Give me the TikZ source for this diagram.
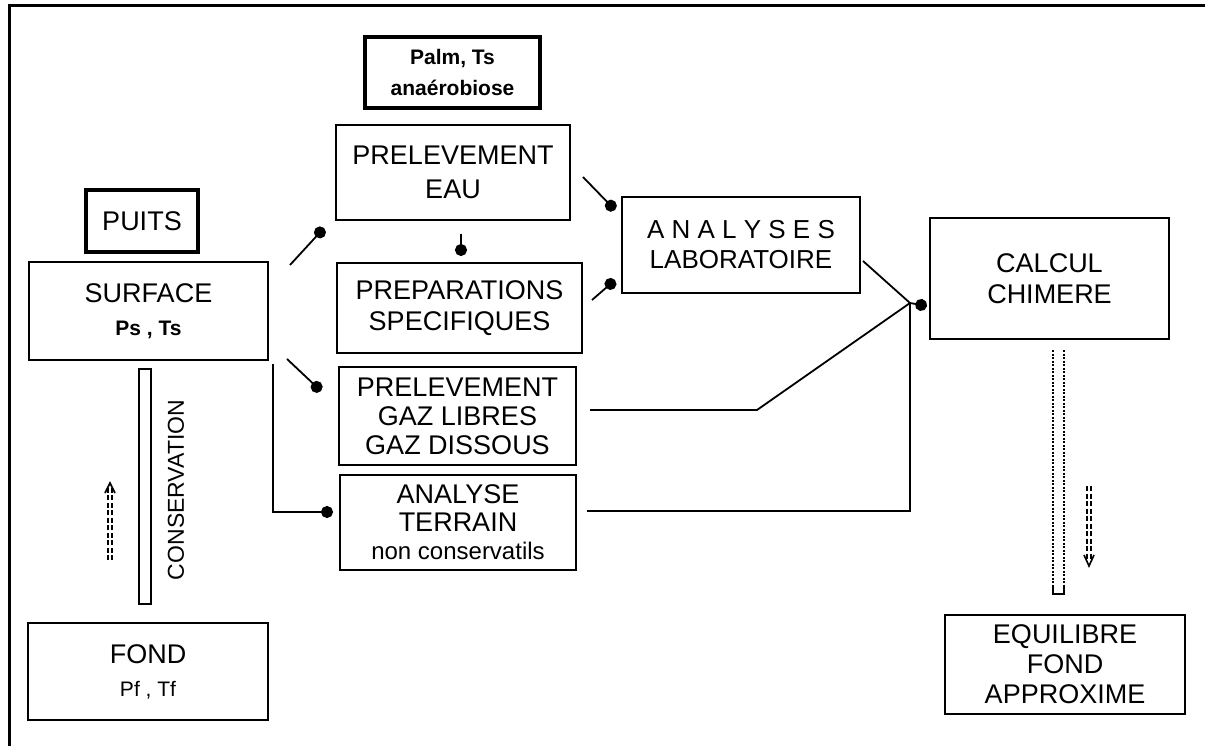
\documentclass[tikz,border=0pt]{standalone}
\usepackage{fontspec}
\setmainfont{Liberation Sans}
\usetikzlibrary{arrows.meta}
\begin{document}
\begin{tikzpicture}[x=1pt,y=-1pt,
  box/.style={draw, line width=2pt, rectangle, inner sep=0pt, align=center, font=\fontsize{27}{31}\selectfont},
  thickbox/.style={box, line width=3.5pt},
  dotline/.style={line width=1.8pt, -{Circle[length=12pt,width=12pt]}},
  wire/.style={line width=1.8pt},
  dashdbl/.style={line width=1.6pt, dash pattern=on 5pt off 2.5pt},
  dotted pipe/.style={line width=2.6pt, dash pattern=on 2.2pt off 1.3pt},
]
\useasboundingbox (0,0) rectangle (1205,746);
% frame
\draw[line width=3pt] (9,746) -- (9,6) -- (1205,6);

% nodes
\node[thickbox, minimum width=175pt, minimum height=71pt, font=\bfseries\fontsize{21}{31}\selectfont] (palm) at (452.5,72.5) {Palm, Ts\\anaérobiose};
\node[box, minimum width=234pt, minimum height=95pt, font=\fontsize{27}{34}\selectfont] (eau) at (453,172.5) {PRELEVEMENT\\EAU};
\node[box, minimum width=245pt, minimum height=90pt] (prep) at (459.5,308) {PREPARATIONS\\SPECIFIQUES};
\node[box, minimum width=238pt, minimum height=96pt, font=\fontsize{26}{30}\selectfont] (lab) at (741,245) {A N A L Y S E S\\LABORATOIRE};
\node[box, minimum width=239pt, minimum height=121pt] (calcul) at (1049.5,278.5) {CALCUL\\CHIMERE};
\node[thickbox, minimum width=112pt, minimum height=62pt] (puits) at (142,221) {PUITS};
\node[box, minimum width=239pt, minimum height=98pt] (surface) at (148.5,311) {SURFACE\\[2pt]{\bfseries\fontsize{21}{25}\selectfont Ps , Ts}};
\node[box, minimum width=237pt, minimum height=98pt, font=\fontsize{27}{29}\selectfont] (gaz) at (457.5,416) {PRELEVEMENT\\GAZ LIBRES\\GAZ DISSOUS};
\node[box, minimum width=236pt, minimum height=95pt, font=\fontsize{27}{28}\selectfont] (terrain) at (458,522.5) {ANALYSE\\TERRAIN\\{\fontsize{24}{26}\selectfont non conservatils}};
\node[box, minimum width=240pt, minimum height=97pt] (fond) at (148,671.5) {FOND\\[2pt]{\fontsize{21}{25}\selectfont Pf , Tf}};
\node[box, minimum width=240pt, minimum height=99pt, font=\fontsize{27}{30}\selectfont] (equil) at (1065,664.5) {EQUILIBRE\\FOND\\APPROXIME};

% conservation tube and label
\node[draw, line width=2pt, minimum width=12pt, minimum height=235pt, inner sep=0pt] (tube) at (145,486.5) {};
\node[rotate=90, font=\fontsize{23}{23}\selectfont, inner sep=0pt] (cons) at (176,490) {CONSERVATION};

% connector end points
\coordinate (s2eA) at (290,265); \coordinate (s2eB) at (324,228);
\coordinate (s2gA) at (287,359); \coordinate (s2gB) at (321,391);
\coordinate (s2tA) at (273,364); \coordinate (s2tB) at (333,512);
\coordinate (e2pA) at (461,234); \coordinate (e2pB) at (461,256);
\coordinate (e2lA) at (583,177); \coordinate (e2lB) at (615,210);
\coordinate (p2lA) at (592,300); \coordinate (p2lB) at (615,280);
\coordinate (l2cA) at (863,261); \coordinate (junc) at (910,303); \coordinate (l2cB) at (927,306);
\coordinate (g2cA) at (590,410); \coordinate (g2cK) at (757,410);
\coordinate (t2cA) at (587,511);

\draw[dotline] (s2eA) -- (s2eB);
\draw[dotline] (s2gA) -- (s2gB);
\draw[dotline] (s2tA) |- (s2tB);
\draw[dotline] (e2pA) -- (e2pB);
\draw[dotline] (e2lA) -- (e2lB);
\draw[dotline] (p2lA) -- (p2lB);
\draw[dotline] (l2cA) -- (junc) -- (l2cB);
\draw[wire] (g2cA) -- (g2cK) -- (junc);
\draw[wire] (t2cA) -| (junc);

% dashed double arrow up
\coordinate (upA) at (110,560); \coordinate (upB) at (110,486);
\draw[dashdbl] ([xshift=-2.2pt]upA) -- ([xshift=-2.2pt]upB);
\draw[dashdbl] ([xshift=2.2pt]upA) -- ([xshift=2.2pt]upB);
\draw[line width=1.6pt] ([xshift=-5pt,yshift=-7pt]upB) -- ([yshift=3pt]upB) -- ([xshift=5pt,yshift=-7pt]upB);

% dotted pipe
\coordinate (pipeL) at (1053,350); \coordinate (pipeR) at (1064,350);
\draw[dotted pipe] (pipeL) -- (1053,592);
\draw[dotted pipe] (pipeR) -- (1064,592);
\draw[line width=1.8pt] (1053,586) -- (1053,594) -- (1064,594) -- (1064,586);

% dashed double arrow down
\coordinate (dnA) at (1089,486); \coordinate (dnB) at (1089,562);
\draw[dashdbl] ([xshift=-2.2pt]dnA) -- ([xshift=-2.2pt]dnB);
\draw[dashdbl] ([xshift=2.2pt]dnA) -- ([xshift=2.2pt]dnB);
\draw[line width=1.6pt] ([xshift=-5pt,yshift=7pt]dnB) -- ([yshift=-4pt]dnB) -- ([xshift=5pt,yshift=7pt]dnB);
\end{tikzpicture}
\end{document}
